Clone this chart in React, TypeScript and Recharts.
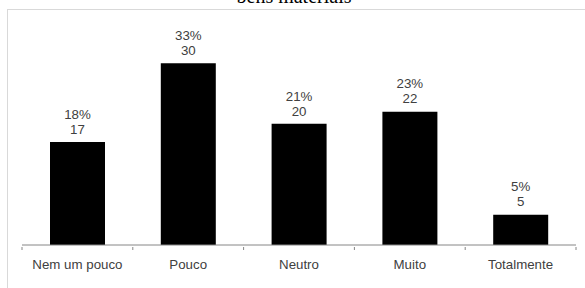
import React from 'react';
import { BarChart, Bar, XAxis, YAxis, LabelList } from 'recharts';

const categories = ['Nem um pouco', 'Pouco', 'Neutro', 'Muito', 'Totalmente'];
const counts = [17, 30, 20, 22, 5];
const percents = [18, 33, 21, 23, 5];
const title = 'bens materiais';

const data = categories.map((name, i) => ({ name, count: counts[i], pct: percents[i] }));

const FONT = '"Liberation Sans", Arial, sans-serif';
const TEXT_COLOR = '#404040';
const AXIS_COLOR = '#868686';
const FS = 13.3;

const CatTick = (props: any) => {
  const { x, y, payload, index, visibleTicksCount } = props;
  const half = payload && payload.offset ? payload.offset : 0;
  const last = index === (visibleTicksCount ?? categories.length) - 1;
  return (
    <g>
      <line x1={x - half} x2={x - half} y1={y} y2={y + 3} stroke={AXIS_COLOR} strokeWidth={1} />
      {last && <line x1={x + half} x2={x + half} y1={y} y2={y + 3} stroke={AXIS_COLOR} strokeWidth={1} />}
      <text x={x} y={y + 17} dy="0.35em" textAnchor="middle" fontSize={FS} fontFamily={FONT} fill={TEXT_COLOR}>
        {payload.value}
      </text>
    </g>
  );
};

const TwoLineLabel = (props: any) => {
  const { x, y, width, index } = props;
  const cx = x + width / 2;
  return (
    <g>
      <text x={cx} y={y - 28} dy="0.35em" textAnchor="middle" fontSize={FS} fontFamily={FONT} fill={TEXT_COLOR}>
        {percents[index] + '%'}
      </text>
      <text x={cx} y={y - 13} dy="0.35em" textAnchor="middle" fontSize={FS} fontFamily={FONT} fill={TEXT_COLOR}>
        {counts[index]}
      </text>
    </g>
  );
};

export default function App() {
  return (
    <div style={{ position: 'absolute', left: 0, top: 0, width: 585, height: 288, overflow: 'hidden', background: '#fff' }}>
      <div
        style={{
          position: 'absolute',
          left: 7,
          top: 9,
          width: 620,
          height: 320,
          border: '1px solid #d9d9d9',
          boxSizing: 'border-box',
        }}
      />
      <div
        style={{
          position: 'absolute',
          left: 194,
          width: 200,
          top: -15,
          textAlign: 'center',
          fontFamily: '"Liberation Serif", "Times New Roman", serif',
          fontSize: 20,
          lineHeight: '23px',
          color: '#000',
        }}
      >
        {title}
      </div>
      <div style={{ position: 'absolute', left: 0, top: 0 }}>
        <BarChart
          width={585}
          height={288}
          data={data}
          margin={{ top: 33, right: 9, left: 22, bottom: 13 }}
          barSize={55}
        >
          <YAxis hide domain={[0, 35]} />
          <XAxis
            dataKey="name"
            height={30}
            tickSize={0}
            tickLine={false}
            axisLine={{ stroke: AXIS_COLOR, strokeWidth: 1 }}
            tick={<CatTick />}
            interval={0}
          />
          <Bar dataKey="count" fill="#000" isAnimationActive={false}>
            <LabelList dataKey="count" content={<TwoLineLabel />} />
          </Bar>
        </BarChart>
      </div>
    </div>
  );
}
